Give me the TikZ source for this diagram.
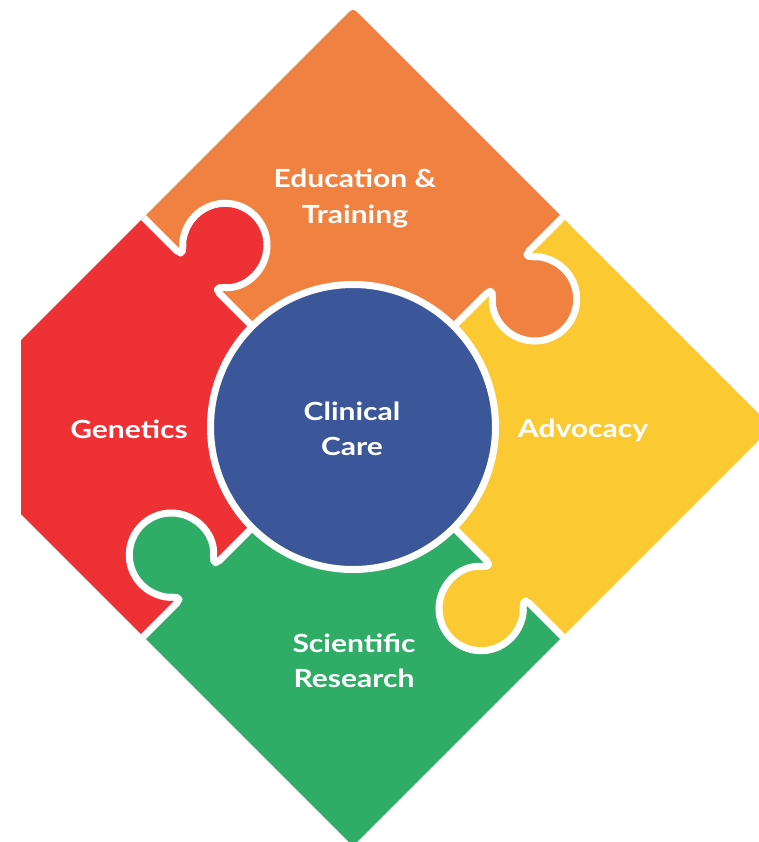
\documentclass[tikz,border=0pt]{standalone}
\usepackage{fontspec}
\newfontfamily\lblfont{Lato}[FakeStretch=1.2]
\definecolor{pzorange}{HTML}{F08140}
\definecolor{pzred}{HTML}{EE3135}
\definecolor{pzyellow}{HTML}{FBCA33}
\definecolor{pzgreen}{HTML}{2FAD66}
\definecolor{pzblue}{HTML}{3B5799}
\begin{document}
\begin{tikzpicture}[x=1pt,y=1pt,
  lbl/.style={text=white, font=\lblfont\bfseries\fontsize{25}{30}\selectfont, anchor=base, inner sep=0pt},
  sepline/.style={draw=white, line width=7pt, line join=round, line cap=butt, rounded corners=4pt}]
\useasboundingbox (0,0) rectangle (759,-842);
\begin{scope}
  \clip (0,0) rectangle (759,-842);
  \clip (21,-514) -- (21,-340) -- (345.93,-15.07) .. controls (353,-8) .. (360.07,-15.07) -- (772,-427) -- (353,-846) -- cycle;
  % quadrants
  \fill[pzorange] (353,-427) -- (-147,73) -- (853,73) -- cycle;
  \fill[pzyellow] (353,-427) -- (853,73) -- (853,-927) -- cycle;
  \fill[pzgreen] (353,-427) -- (853,-927) -- (-147,-927) -- cycle;
  \fill[pzred] (353,-427) -- (-147,-927) -- (-147,73) -- cycle;
  % knobs and separators
  \foreach \ang/\col in {135/pzred, 45/pzorange, -45/pzyellow, -135/pzgreen}{
    \begin{scope}[shift={(353,-427)}, rotate=\ang]
      \fill[\col] (193,3) -- (193,-5.02) arc[start angle=128.25, end angle=411.75, radius=42] -- (245,3) -- cycle;
      \draw[sepline] (120,0) -- (193,0) -- (193,-5.02) arc[start angle=128.25, end angle=411.75, radius=42] -- (245,0) -- (340,0);
    \end{scope}
  }
\end{scope}
% centre circle
\node[circle, fill=pzblue, draw=white, line width=7pt, minimum size=285pt, inner sep=0pt] (care) at (353,-427) {};
% labels
\node[lbl] (edu1) at (355,-188) {Education \&};
\node[lbl] (edu2) at (355,-223) {Training};
\node[lbl] (cli1) at (352,-420) {Clinical};
\node[lbl] (cli2) at (352,-455) {Care};
\node[lbl] (gen) at (129,-438) {Genetics};
\node[lbl] (adv) at (583,-437) {Advocacy};
\node[lbl] (sci1) at (354,-652) {Scientific};
\node[lbl] (sci2) at (354,-687) {Research};
\end{tikzpicture}
\end{document}
